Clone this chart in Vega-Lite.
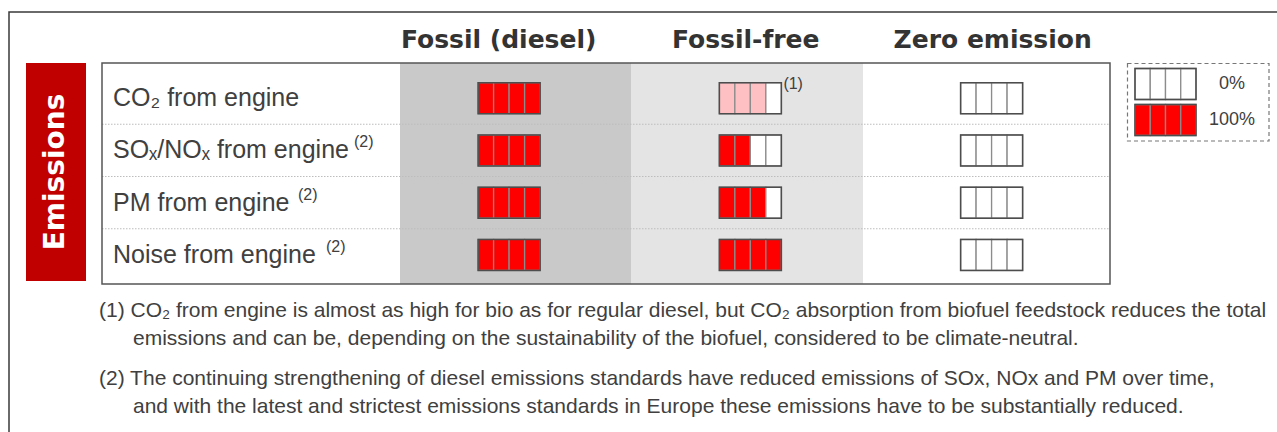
{
  "$schema": "https://vega.github.io/schema/vega-lite/v6.json",
  "width": 1275,
  "height": 426,
  "autosize": {"type": "none"},
  "padding": {"left": 9, "top": 12, "right": 0, "bottom": 0},
  "background": "#ffffff",
  "config": {"view": {"stroke": "#3a3a3a", "strokeWidth": 1.5}, "font": "Liberation Sans"},
  "datasets": {
    "columns": [
      {"col": "Fossil (diesel)", "section": "Emissions"},
      {"col": "Fossil-free", "section": "Emissions"},
      {"col": "Zero emission", "section": "Emissions"}
    ],
    "rows": [
      {"emission": "CO\u2082", "label": "CO\u2082 from engine", "section": "Emissions"},
      {"emission": "SO\u2093/NO\u2093", "label": "SO\u2093/NO\u2093 from engine", "section": "Emissions"},
      {"emission": "PM", "label": "PM from engine", "section": "Emissions"},
      {"emission": "Noise", "label": "Noise from engine", "section": "Emissions"}
    ],
    "sups": [
      {"emission": "SO\u2093/NO\u2093", "mark": "(2)"},
      {"emission": "PM", "mark": "(2)"},
      {"emission": "Noise", "mark": "(2)"}
    ],
    "sections": [{"section": "Emissions"}],
    "cells": [
      {"emission": "CO\u2082", "col": "Fossil (diesel)", "cell": 1, "level": "full"},
      {"emission": "CO\u2082", "col": "Fossil (diesel)", "cell": 2, "level": "full"},
      {"emission": "CO\u2082", "col": "Fossil (diesel)", "cell": 3, "level": "full"},
      {"emission": "CO\u2082", "col": "Fossil (diesel)", "cell": 4, "level": "full"},
      {"emission": "CO\u2082", "col": "Fossil-free", "cell": 1, "level": "partial"},
      {"emission": "CO\u2082", "col": "Fossil-free", "cell": 2, "level": "partial"},
      {"emission": "CO\u2082", "col": "Fossil-free", "cell": 3, "level": "partial"},
      {"emission": "CO\u2082", "col": "Fossil-free", "cell": 4, "level": "empty"},
      {"emission": "CO\u2082", "col": "Zero emission", "cell": 1, "level": "empty"},
      {"emission": "CO\u2082", "col": "Zero emission", "cell": 2, "level": "empty"},
      {"emission": "CO\u2082", "col": "Zero emission", "cell": 3, "level": "empty"},
      {"emission": "CO\u2082", "col": "Zero emission", "cell": 4, "level": "empty"},
      {"emission": "SO\u2093/NO\u2093", "col": "Fossil (diesel)", "cell": 1, "level": "full"},
      {"emission": "SO\u2093/NO\u2093", "col": "Fossil (diesel)", "cell": 2, "level": "full"},
      {"emission": "SO\u2093/NO\u2093", "col": "Fossil (diesel)", "cell": 3, "level": "full"},
      {"emission": "SO\u2093/NO\u2093", "col": "Fossil (diesel)", "cell": 4, "level": "full"},
      {"emission": "SO\u2093/NO\u2093", "col": "Fossil-free", "cell": 1, "level": "full"},
      {"emission": "SO\u2093/NO\u2093", "col": "Fossil-free", "cell": 2, "level": "full"},
      {"emission": "SO\u2093/NO\u2093", "col": "Fossil-free", "cell": 3, "level": "empty"},
      {"emission": "SO\u2093/NO\u2093", "col": "Fossil-free", "cell": 4, "level": "empty"},
      {"emission": "SO\u2093/NO\u2093", "col": "Zero emission", "cell": 1, "level": "empty"},
      {"emission": "SO\u2093/NO\u2093", "col": "Zero emission", "cell": 2, "level": "empty"},
      {"emission": "SO\u2093/NO\u2093", "col": "Zero emission", "cell": 3, "level": "empty"},
      {"emission": "SO\u2093/NO\u2093", "col": "Zero emission", "cell": 4, "level": "empty"},
      {"emission": "PM", "col": "Fossil (diesel)", "cell": 1, "level": "full"},
      {"emission": "PM", "col": "Fossil (diesel)", "cell": 2, "level": "full"},
      {"emission": "PM", "col": "Fossil (diesel)", "cell": 3, "level": "full"},
      {"emission": "PM", "col": "Fossil (diesel)", "cell": 4, "level": "full"},
      {"emission": "PM", "col": "Fossil-free", "cell": 1, "level": "full"},
      {"emission": "PM", "col": "Fossil-free", "cell": 2, "level": "full"},
      {"emission": "PM", "col": "Fossil-free", "cell": 3, "level": "full"},
      {"emission": "PM", "col": "Fossil-free", "cell": 4, "level": "empty"},
      {"emission": "PM", "col": "Zero emission", "cell": 1, "level": "empty"},
      {"emission": "PM", "col": "Zero emission", "cell": 2, "level": "empty"},
      {"emission": "PM", "col": "Zero emission", "cell": 3, "level": "empty"},
      {"emission": "PM", "col": "Zero emission", "cell": 4, "level": "empty"},
      {"emission": "Noise", "col": "Fossil (diesel)", "cell": 1, "level": "full"},
      {"emission": "Noise", "col": "Fossil (diesel)", "cell": 2, "level": "full"},
      {"emission": "Noise", "col": "Fossil (diesel)", "cell": 3, "level": "full"},
      {"emission": "Noise", "col": "Fossil (diesel)", "cell": 4, "level": "full"},
      {"emission": "Noise", "col": "Fossil-free", "cell": 1, "level": "full"},
      {"emission": "Noise", "col": "Fossil-free", "cell": 2, "level": "full"},
      {"emission": "Noise", "col": "Fossil-free", "cell": 3, "level": "full"},
      {"emission": "Noise", "col": "Fossil-free", "cell": 4, "level": "full"},
      {"emission": "Noise", "col": "Zero emission", "cell": 1, "level": "empty"},
      {"emission": "Noise", "col": "Zero emission", "cell": 2, "level": "empty"},
      {"emission": "Noise", "col": "Zero emission", "cell": 3, "level": "empty"},
      {"emission": "Noise", "col": "Zero emission", "cell": 4, "level": "empty"}
    ],
    "notemarks": [{"emission": "CO\u2082", "col": "Fossil-free", "mark": "(1)"}],
    "legend": [
      {"section": "Legend", "key": "0%", "cell": 1, "level": "empty"},
      {"section": "Legend", "key": "0%", "cell": 2, "level": "empty"},
      {"section": "Legend", "key": "0%", "cell": 3, "level": "empty"},
      {"section": "Legend", "key": "0%", "cell": 4, "level": "empty"},
      {"section": "Legend", "key": "100%", "cell": 1, "level": "full"},
      {"section": "Legend", "key": "100%", "cell": 2, "level": "full"},
      {"section": "Legend", "key": "100%", "cell": 3, "level": "full"},
      {"section": "Legend", "key": "100%", "cell": 4, "level": "full"}
    ],
    "legendBox": [{"section": "Legend"}],
    "notes": [
      {"note": "(1)", "part": "lead", "text": "(1) CO\u2082 from engine is almost as high for bio as for regular diesel, but CO\u2082 absorption from biofuel feedstock reduces the total"},
      {"note": "(1)", "part": "cont", "text": "emissions and can be, depending on the sustainability of the biofuel, considered to be climate-neutral."},
      {"note": "(2)", "part": "lead", "text": "(2) The continuing strengthening of diesel emissions standards have reduced emissions of SOx, NOx and PM over time,"},
      {"note": "(2)", "part": "cont", "text": "and with the latest and strictest emissions standards in Europe these emissions have to be substantially reduced."}
    ]
  },
  "layer": [
    {
      "data": {"name": "columns"},
      "transform": [{"filter": "datum.col !== 'Zero emission'"}],
      "mark": {"type": "rect"},
      "encoding": {
        "x": {"field": "col", "type": "nominal", "axis": null, "scale": {"domain": ["Fossil (diesel)", "Fossil-free"], "range": [391, 854], "paddingInner": 0, "paddingOuter": 0}},
        "y": {"field": "section", "type": "nominal", "axis": null, "scale": {"domain": ["Emissions"], "range": [51, 272], "paddingInner": 0, "paddingOuter": 0}},
        "fill": {"field": "col", "type": "nominal", "legend": null, "scale": {"domain": ["Fossil (diesel)", "Fossil-free"], "range": ["#c9c9c9", "#e4e4e4"]}}
      }
    },
    {
      "data": {"name": "rows"},
      "transform": [{"filter": "datum.emission !== 'Noise'"}],
      "mark": {"type": "rule", "stroke": "#bdbdbd", "strokeWidth": 1.2, "strokeDash": [1.5, 1.5]},
      "encoding": {
        "x": {"field": "section", "type": "nominal", "bandPosition": 0, "axis": null, "scale": {"domain": ["Emissions"], "range": [93, 1101], "paddingInner": 0, "paddingOuter": 0}},
        "x2": {"field": "section", "bandPosition": 1},
        "y": {"field": "emission", "type": "nominal", "bandPosition": 1, "axis": null, "scale": {"domain": ["CO\u2082", "SO\u2093/NO\u2093", "PM", "Noise"], "range": [60, 269], "paddingInner": 0, "paddingOuter": 0}}
      }
    },
    {
      "data": {"name": "sections"},
      "mark": {"type": "rect", "filled": false, "stroke": "#555555", "strokeWidth": 1.5},
      "encoding": {
        "x": {"field": "section", "type": "nominal", "axis": null, "scale": {"domain": ["Emissions"], "range": [93, 1101], "paddingInner": 0, "paddingOuter": 0}},
        "y": {"field": "section", "type": "nominal", "axis": null, "scale": {"domain": ["Emissions"], "range": [51, 272], "paddingInner": 0, "paddingOuter": 0}}
      }
    },
    {
      "data": {"name": "cells"},
      "mark": {"type": "rect", "height": 31, "stroke": "#8c8c8c", "strokeWidth": 1.3},
      "encoding": {
        "x": {"field": "col", "type": "nominal", "axis": null, "scale": {"domain": ["Fossil (diesel)", "Fossil-free", "Zero emission"], "range": [379.5, 1103.25], "paddingInner": 0, "paddingOuter": 0}},
        "xOffset": {"field": "cell", "type": "nominal", "scale": {"domain": [1, 2, 3, 4], "range": [89.6, 151.6], "paddingInner": 0, "paddingOuter": 0}},
        "y": {"field": "emission", "type": "nominal", "axis": null, "scale": {"domain": ["CO\u2082", "SO\u2093/NO\u2093", "PM", "Noise"], "range": [60, 269], "paddingInner": 0, "paddingOuter": 0}},
        "fill": {"field": "level", "type": "nominal", "legend": null, "scale": {"domain": ["full", "partial", "empty"], "range": ["#ff0000", "#ffc0c4", "#ffffff"]}}
      }
    },
    {
      "data": {"name": "cells"},
      "transform": [{"filter": "datum.cell == 1"}],
      "mark": {"type": "rect", "filled": false, "width": 62, "height": 31, "stroke": "#4d4d4d", "strokeWidth": 1.5},
      "encoding": {
        "x": {"field": "col", "type": "nominal", "axis": null, "scale": {"domain": ["Fossil (diesel)", "Fossil-free", "Zero emission"], "range": [379.5, 1103.25], "paddingInner": 0, "paddingOuter": 0}},
        "y": {"field": "emission", "type": "nominal", "axis": null, "scale": {"domain": ["CO\u2082", "SO\u2093/NO\u2093", "PM", "Noise"], "range": [60, 269], "paddingInner": 0, "paddingOuter": 0}}
      }
    },
    {
      "data": {"name": "notemarks"},
      "mark": {"type": "text", "align": "left", "baseline": "middle", "dx": 33, "dy": -14, "fontSize": 16, "fill": "#404040"},
      "encoding": {
        "x": {"field": "col", "type": "nominal", "axis": null, "scale": {"domain": ["Fossil (diesel)", "Fossil-free", "Zero emission"], "range": [379.5, 1103.25], "paddingInner": 0, "paddingOuter": 0}},
        "y": {"field": "emission", "type": "nominal", "axis": null, "scale": {"domain": ["CO\u2082", "SO\u2093/NO\u2093", "PM", "Noise"], "range": [60, 269], "paddingInner": 0, "paddingOuter": 0}},
        "text": {"field": "mark", "type": "nominal"}
      }
    },
    {
      "data": {"name": "rows"},
      "mark": {"type": "text", "align": "left", "baseline": "middle", "fontSize": 25, "fill": "#404040"},
      "encoding": {
        "x": {"field": "section", "type": "nominal", "axis": null, "scale": {"type": "point", "domain": ["Emissions"], "range": [104, 391], "padding": 0, "align": 0}},
        "y": {"field": "emission", "type": "nominal", "axis": null, "scale": {"domain": ["CO\u2082", "SO\u2093/NO\u2093", "PM", "Noise"], "range": [60, 269], "paddingInner": 0, "paddingOuter": 0}},
        "text": {"field": "label", "type": "nominal"}
      }
    },
    {
      "data": {"name": "sups"},
      "mark": {"type": "text", "align": "left", "baseline": "middle", "dy": -8, "fontSize": 16, "fill": "#404040"},
      "encoding": {
        "x": {"field": "emission", "type": "nominal", "axis": null, "scale": {"type": "point", "domain": ["PM", "Noise", "SO\u2093/NO\u2093"], "range": [289, 345], "padding": 0}},
        "y": {"field": "emission", "type": "nominal", "axis": null, "scale": {"domain": ["CO\u2082", "SO\u2093/NO\u2093", "PM", "Noise"], "range": [60, 269], "paddingInner": 0, "paddingOuter": 0}},
        "text": {"field": "mark", "type": "nominal"}
      }
    },
    {
      "data": {"name": "columns"},
      "mark": {"type": "text", "align": "center", "baseline": "alphabetic", "dy": -15, "font": "DejaVu Sans", "fontWeight": "bold", "fontSize": 25, "fill": "#333333"},
      "encoding": {
        "x": {"field": "col", "type": "nominal", "axis": null, "scale": {"domain": ["Fossil (diesel)", "Fossil-free", "Zero emission"], "range": [366.2, 1107.2], "paddingInner": 0, "paddingOuter": 0}},
        "y": {"field": "section", "type": "nominal", "axis": null, "scale": {"type": "point", "domain": ["Emissions"], "range": [51, 272], "padding": 0, "align": 0}},
        "text": {"field": "col", "type": "nominal"}
      }
    },
    {
      "data": {"name": "sections"},
      "mark": {"type": "rect", "fill": "#c00000"},
      "encoding": {
        "x": {"field": "section", "type": "nominal", "axis": null, "scale": {"domain": ["Emissions"], "range": [17, 77], "paddingInner": 0, "paddingOuter": 0}},
        "y": {"field": "section", "type": "nominal", "axis": null, "scale": {"domain": ["Emissions"], "range": [51, 269], "paddingInner": 0, "paddingOuter": 0}}
      }
    },
    {
      "data": {"name": "sections"},
      "mark": {"type": "text", "angle": 270, "align": "center", "baseline": "middle", "font": "DejaVu Sans", "fontWeight": "bold", "fontSize": 28, "fill": "#ffffff"},
      "encoding": {
        "x": {"field": "section", "type": "nominal", "axis": null, "scale": {"domain": ["Emissions"], "range": [17, 77], "paddingInner": 0, "paddingOuter": 0}},
        "y": {"field": "section", "type": "nominal", "axis": null, "scale": {"domain": ["Emissions"], "range": [51, 269], "paddingInner": 0, "paddingOuter": 0}},
        "text": {"field": "section", "type": "nominal"}
      }
    },
    {
      "data": {"name": "legendBox"},
      "mark": {"type": "rect", "filled": false, "stroke": "#777777", "strokeWidth": 1.2, "strokeDash": [4, 3]},
      "encoding": {
        "x": {"field": "section", "type": "nominal", "axis": null, "scale": {"domain": ["Legend"], "range": [1118.5, 1260], "paddingInner": 0, "paddingOuter": 0}},
        "y": {"field": "section", "type": "nominal", "axis": null, "scale": {"domain": ["Legend"], "range": [51.5, 129], "paddingInner": 0, "paddingOuter": 0}}
      }
    },
    {
      "data": {"name": "legend"},
      "mark": {"type": "rect", "height": 31, "stroke": "#8c8c8c", "strokeWidth": 1.3},
      "encoding": {
        "x": {"field": "section", "type": "nominal", "axis": null, "scale": {"domain": ["Legend"], "range": [1126, 1187], "paddingInner": 0, "paddingOuter": 0}},
        "xOffset": {"field": "cell", "type": "nominal", "scale": {"domain": [1, 2, 3, 4], "range": [0, 61], "paddingInner": 0, "paddingOuter": 0}},
        "y": {"field": "key", "type": "nominal", "axis": null, "scale": {"domain": ["0%", "100%"], "range": [54, 126], "paddingInner": 0, "paddingOuter": 0}},
        "fill": {"field": "level", "type": "nominal", "legend": null, "scale": {"domain": ["full", "partial", "empty"], "range": ["#ff0000", "#ffc0c4", "#ffffff"]}}
      }
    },
    {
      "data": {"name": "legend"},
      "transform": [{"filter": "datum.cell == 1"}],
      "mark": {"type": "rect", "filled": false, "height": 31, "stroke": "#4d4d4d", "strokeWidth": 1.5},
      "encoding": {
        "x": {"field": "section", "type": "nominal", "axis": null, "scale": {"domain": ["Legend"], "range": [1126, 1187], "paddingInner": 0, "paddingOuter": 0}},
        "y": {"field": "key", "type": "nominal", "axis": null, "scale": {"domain": ["0%", "100%"], "range": [54, 126], "paddingInner": 0, "paddingOuter": 0}}
      }
    },
    {
      "data": {"name": "legend"},
      "transform": [{"filter": "datum.cell == 1"}],
      "mark": {"type": "text", "align": "center", "baseline": "middle", "fontSize": 18, "fill": "#404040"},
      "encoding": {
        "x": {"field": "section", "type": "nominal", "axis": null, "scale": {"domain": ["Legend"], "range": [1191, 1255], "paddingInner": 0, "paddingOuter": 0}},
        "y": {"field": "key", "type": "nominal", "axis": null, "scale": {"domain": ["0%", "100%"], "range": [54, 126], "paddingInner": 0, "paddingOuter": 0}},
        "text": {"field": "key", "type": "nominal"}
      }
    },
    {
      "data": {"name": "notes"},
      "mark": {"type": "text", "align": "left", "baseline": "alphabetic", "fontSize": 21, "fill": "#404040"},
      "encoding": {
        "x": {"field": "part", "type": "nominal", "axis": null, "scale": {"type": "point", "domain": ["lead", "cont"], "range": [90, 124], "padding": 0}},
        "y": {"field": "note", "type": "nominal", "axis": null, "scale": {"type": "point", "domain": ["(1)", "(2)"], "range": [305, 373], "padding": 0}},
        "yOffset": {"field": "part", "type": "nominal", "scale": {"type": "point", "domain": ["lead", "cont"], "range": [0, 28], "padding": 0}},
        "text": {"field": "text", "type": "nominal"}
      }
    }
  ],
  "resolve": {"scale": {"x": "independent", "y": "independent", "xOffset": "independent", "yOffset": "independent", "fill": "independent"}}
}
